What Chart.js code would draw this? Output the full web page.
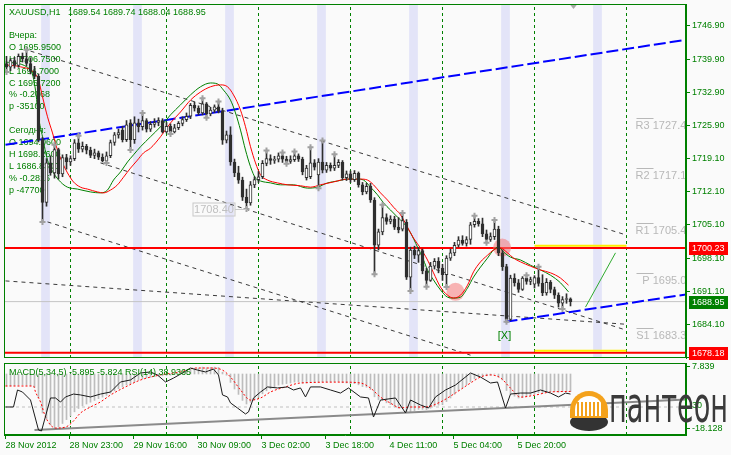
<!DOCTYPE html>
<html>
<head>
<meta charset="utf-8">
<title>XAUUSD H1</title>
<script src="https://cdn.jsdelivr.net/npm/chart.js@4.4.1/dist/chart.umd.min.js"></script>
<style>
  html, body { margin: 0; padding: 0; background: #ffffff; }
  #wrap { position: relative; width: 731px; height: 455px; background: #fafafa; overflow: hidden; }
  #mainChart { position: absolute; left: 0; top: 0; }
  #subChart { position: absolute; left: 0; top: 360px; }
</style>
</head>
<body>
<div id="wrap">
  <canvas id="mainChart" width="731" height="360"></canvas>
  <canvas id="subChart" width="731" height="95"></canvas>
</div>
<script>
const GREEN = "#008000";
const FONT = "Liberation Sans";

// hourly bars, index 0 = first (clipped) bar at the left edge
const candleOpen = [
  1738.5, 1739.0, 1738.2, 1739.6, 1738.6, 1740.5, 1740.0, 1739.0, 1737.4, 1736.3,
  1723.0, 1709.8, 1718.1, 1716.0, 1720.9, 1715.8, 1719.2, 1718.3, 1719.0, 1722.3,
  1721.0, 1721.6, 1720.8, 1719.7, 1720.2, 1719.3, 1718.5, 1719.6, 1722.4, 1724.0,
  1725.0, 1723.0, 1726.5, 1723.0, 1726.5, 1725.7, 1727.0, 1725.2, 1726.2, 1726.6,
  1727.0, 1724.6, 1725.8, 1724.6, 1725.5, 1726.4, 1727.2, 1727.9, 1730.2, 1729.6,
  1728.6, 1730.5, 1728.4, 1729.2, 1729.9, 1729.0, 1722.9, 1724.0, 1718.3, 1716.0,
  1714.5, 1710.9, 1709.7, 1713.5, 1714.6, 1715.2, 1718.0, 1719.0, 1718.6, 1718.9,
  1719.6, 1718.9, 1718.4, 1718.8, 1719.6, 1718.9, 1715.0, 1715.2, 1718.1, 1715.6,
  1718.3, 1716.6, 1717.6, 1717.0, 1717.6, 1718.2, 1715.0, 1715.8, 1714.6, 1715.9,
  1713.5, 1712.0, 1713.2, 1710.3, 1700.8, 1703.6, 1706.6, 1705.8, 1706.3, 1704.6,
  1704.2, 1705.6, 1694.1, 1699.8, 1698.7, 1699.7, 1695.4, 1693.4, 1696.4, 1697.4,
  1696.0, 1694.6, 1698.1, 1699.2, 1700.8, 1701.9, 1701.2, 1702.0, 1705.1, 1705.8,
  1705.3, 1703.2, 1702.0, 1702.6, 1704.2, 1699.2, 1696.3, 1685.2, 1693.9, 1692.9,
  1691.5, 1693.9, 1693.2, 1692.6, 1694.0, 1692.8, 1690.8, 1693.0, 1691.5, 1690.3,
  1688.6, 1689.4, 1689.54
];
const candleHigh = [
  1740.0, 1740.5, 1740.0, 1740.3, 1741.0, 1741.2, 1741.9, 1740.2, 1738.4, 1736.8,
  1723.5, 1719.0, 1719.6, 1721.9, 1721.2, 1719.8, 1719.9, 1719.6, 1723.0, 1723.8,
  1722.5, 1722.0, 1721.4, 1721.0, 1720.6, 1720.0, 1720.4, 1722.9, 1724.5, 1725.2,
  1725.8, 1727.0, 1727.2, 1727.8, 1727.3, 1728.6, 1727.4, 1726.8, 1727.4, 1727.6,
  1727.4, 1726.6, 1726.3, 1726.2, 1726.8, 1727.8, 1728.6, 1730.6, 1730.9, 1730.1,
  1731.7, 1730.8, 1729.8, 1730.3, 1731.0, 1729.6, 1724.8, 1725.7, 1718.9, 1717.4,
  1715.1, 1712.6, 1714.2, 1715.2, 1716.3, 1718.6, 1720.7, 1719.8, 1719.5, 1720.2,
  1720.3, 1719.5, 1719.6, 1720.5, 1720.0, 1719.3, 1717.6, 1721.4, 1718.8, 1719.0,
  1722.8, 1718.2, 1718.1, 1719.9, 1718.8, 1718.6, 1716.4, 1716.4, 1716.5, 1716.2,
  1714.0, 1713.8, 1713.8, 1710.8, 1704.2, 1709.3, 1707.4, 1707.0, 1706.9, 1706.6,
  1707.6, 1706.2, 1700.4, 1700.6, 1700.3, 1700.0, 1696.0, 1697.2, 1698.0, 1698.2,
  1696.8, 1698.6, 1700.0, 1701.4, 1702.6, 1702.8, 1702.6, 1705.6, 1707.0, 1706.4,
  1706.5, 1704.0, 1703.4, 1706.1, 1704.8, 1699.8, 1696.8, 1694.5, 1694.8, 1693.6,
  1694.2, 1694.5, 1694.1, 1694.4, 1696.3, 1694.6, 1693.8, 1693.4, 1692.0, 1690.8,
  1690.0, 1690.6, 1689.74
];
const candleLow = [
  1737.8, 1737.2, 1737.5, 1738.0, 1738.2, 1739.3, 1738.5, 1736.8, 1735.8, 1722.5,
  1705.7, 1709.0, 1715.5, 1714.9, 1714.7, 1715.2, 1716.8, 1717.6, 1718.6, 1720.3,
  1720.4, 1720.0, 1719.2, 1719.0, 1718.8, 1718.3, 1718.1, 1719.2, 1721.8, 1723.3,
  1722.5, 1722.6, 1720.8, 1722.2, 1724.6, 1725.0, 1724.6, 1724.7, 1725.6, 1725.9,
  1724.4, 1724.4, 1724.2, 1724.4, 1725.1, 1725.9, 1726.8, 1727.4, 1729.0, 1728.2,
  1728.2, 1727.6, 1728.0, 1728.7, 1728.6, 1722.0, 1722.3, 1717.6, 1715.2, 1713.8,
  1710.2, 1708.4, 1709.2, 1712.9, 1714.0, 1714.8, 1717.5, 1717.8, 1718.0, 1718.3,
  1718.2, 1717.9, 1718.0, 1718.4, 1718.4, 1715.6, 1714.5, 1714.8, 1716.6, 1712.8,
  1716.0, 1716.1, 1716.4, 1716.5, 1717.1, 1714.5, 1714.4, 1714.0, 1714.2, 1713.0,
  1711.4, 1711.6, 1709.8, 1694.7, 1699.8, 1703.0, 1705.2, 1705.3, 1704.1, 1703.4,
  1703.8, 1693.6, 1691.2, 1698.0, 1697.2, 1694.8, 1692.1, 1693.2, 1695.8, 1695.0,
  1693.4, 1692.0, 1697.6, 1698.6, 1700.4, 1700.8, 1700.6, 1701.0, 1704.6, 1704.8,
  1702.6, 1701.3, 1701.6, 1702.0, 1698.6, 1695.5, 1684.7, 1685.0, 1692.2, 1690.9,
  1691.3, 1692.6, 1692.5, 1691.8, 1692.2, 1690.2, 1690.3, 1690.8, 1689.6, 1687.8,
  1687.4, 1688.6, 1688.04
];
const candleClose = [
  1739.0, 1738.2, 1739.6, 1738.6, 1740.5, 1740.0, 1739.0, 1737.4, 1736.3, 1723.0,
  1709.8, 1718.1, 1716.0, 1720.9, 1715.8, 1719.2, 1718.3, 1719.0, 1722.3, 1721.0,
  1721.6, 1720.8, 1719.7, 1720.2, 1719.3, 1718.5, 1719.6, 1722.4, 1724.0, 1724.5,
  1723.0, 1726.1, 1723.0, 1726.5, 1725.7, 1727.0, 1725.2, 1726.2, 1726.6, 1727.0,
  1724.6, 1725.8, 1724.6, 1725.5, 1726.4, 1727.2, 1727.9, 1730.2, 1729.6, 1728.6,
  1730.5, 1728.4, 1729.2, 1729.9, 1729.0, 1722.9, 1724.0, 1718.3, 1716.0, 1714.5,
  1710.9, 1709.7, 1713.5, 1714.6, 1715.2, 1718.0, 1719.0, 1718.6, 1718.9, 1719.6,
  1718.9, 1718.4, 1718.8, 1719.6, 1718.9, 1716.2, 1717.0, 1718.1, 1717.2, 1718.3,
  1716.6, 1717.6, 1717.0, 1717.6, 1718.2, 1715.0, 1715.8, 1714.6, 1715.9, 1713.5,
  1712.0, 1713.2, 1710.3, 1700.8, 1703.6, 1706.6, 1705.8, 1706.3, 1704.6, 1704.0,
  1706.0, 1694.1, 1699.8, 1698.7, 1699.7, 1695.4, 1693.4, 1696.4, 1697.4, 1696.0,
  1694.6, 1698.1, 1699.2, 1700.8, 1701.9, 1701.2, 1702.0, 1705.1, 1705.8, 1705.3,
  1703.2, 1702.0, 1702.6, 1704.2, 1699.2, 1696.3, 1685.2, 1693.9, 1692.9, 1691.5,
  1693.9, 1693.2, 1693.6, 1694.0, 1692.8, 1690.8, 1693.0, 1691.5, 1690.3, 1688.6,
  1689.4, 1689.5, 1688.95
];

const priceTicks = [1746.9, 1739.9, 1732.9, 1725.9, 1719.1, 1712.1, 1705.1, 1698.1, 1691.1, 1684.1, 1677.3];

// moving averages as [bar, price]
const greenMa = [
  [0.75, 1739.3], [7, 1737.7], [8.25, 1733.4], [9, 1727.8], [10, 1723.6], [11.25, 1718.7],
  [12.75, 1716.0], [14.5, 1714.1], [16.25, 1713.0], [18.75, 1712.6], [22, 1712.0], [24.5, 1711.8],
  [26.25, 1712.4], [27.75, 1714.5], [29.5, 1716.2], [31.25, 1718.3], [32.75, 1719.8], [34.5, 1721.5],
  [37, 1723.6], [39.5, 1725.7], [42, 1728.2], [44.5, 1730.3], [47, 1732.4], [49.5, 1734.1],
  [52, 1734.9], [53.75, 1734.7], [55.25, 1733.4], [57, 1731.3], [58.25, 1728.6], [59.5, 1725.0],
  [60.75, 1720.8], [62, 1717.3], [63.25, 1714.9], [64.5, 1714.3], [67, 1713.9], [69.5, 1713.5],
  [72.75, 1713.5], [76.25, 1712.8], [78.75, 1713.0], [81.25, 1713.9], [83.75, 1714.3], [86.25, 1714.7],
  [88.75, 1714.7], [90.25, 1714.5], [92, 1713.0], [93.75, 1711.4], [95.25, 1709.7], [97, 1708.2],
  [98.75, 1706.7], [100.25, 1705.5], [102, 1703.4], [103.75, 1700.4], [105.25, 1697.7], [106.25, 1695.6],
  [107.75, 1693.5], [109.5, 1691.4], [111.25, 1689.9], [112.75, 1689.7], [114.5, 1689.9], [116.25, 1691.8],
  [117.75, 1694.1], [119.5, 1696.2], [121.25, 1698.1], [122.75, 1699.8], [124, 1700.4], [125.25, 1699.4],
  [127, 1698.3], [129.5, 1697.7], [132, 1696.6], [134.5, 1695.6], [137, 1694.5], [139.5, 1692.9], [141.5, 1691.0]
];
const redMa = [
  [0.75, 1738.7], [4.5, 1738.3], [7.75, 1737.2], [9, 1735.5], [10, 1732.0], [11.25, 1727.8],
  [12.5, 1724.4], [13.75, 1720.8], [15, 1718.1], [16.25, 1716.0], [17.75, 1714.1], [19.5, 1713.0],
  [21.25, 1712.6], [23.75, 1712.0], [25.25, 1711.8], [27, 1712.4], [28.75, 1713.5], [30.25, 1715.1],
  [32, 1717.0], [33.75, 1718.7], [35.25, 1720.2], [37, 1721.2], [39.5, 1723.6], [42, 1726.5],
  [44.5, 1728.8], [47, 1731.3], [49.5, 1733.0], [52, 1734.1], [54.5, 1734.5], [56.25, 1734.1],
  [57.75, 1732.4], [59.5, 1729.2], [60.75, 1725.7], [62, 1721.5], [63.25, 1718.1], [64.5, 1715.6],
  [66.25, 1714.5], [68.75, 1713.9], [71.25, 1713.5], [74.5, 1713.3], [77, 1713.0], [79.5, 1713.5],
  [82.75, 1714.1], [86.25, 1714.7], [89.5, 1714.7], [91.25, 1714.5], [92.75, 1713.5], [94.5, 1711.8],
  [96.25, 1710.3], [97.75, 1708.8], [99.5, 1707.2], [101.25, 1704.6], [102.75, 1702.3], [104.5, 1700.2],
  [106.25, 1697.7], [107.75, 1695.0], [109.5, 1692.0], [111.25, 1690.3], [112.75, 1689.7], [114.5, 1690.3],
  [116.25, 1692.4], [117.75, 1695.2], [119.5, 1697.3], [121.25, 1698.7], [122.75, 1699.8], [124.5, 1700.2],
  [126.25, 1699.2], [127.75, 1698.1], [129.5, 1697.3], [132, 1696.4], [134.5, 1695.6], [137, 1695.0],
  [139.5, 1693.9], [141.5, 1692.4]
];

const fractalUp = [
  [6, 1741.9], [13, 1721.9], [19, 1723.8], [35, 1728.6], [50, 1731.7], [54, 1731.0], [66, 1720.7],
  [70, 1720.3], [73, 1720.5], [77, 1721.4], [80, 1722.8], [83, 1719.9], [95, 1709.3], [100, 1707.6],
  [118, 1707.0], [123, 1706.1], [131, 1694.5], [134, 1696.3]
];
const fractalDown = [
  [1, 1737.2], [10, 1705.7], [26, 1718.1], [32, 1720.8], [42, 1724.2], [51, 1727.6], [61, 1708.4],
  [71, 1717.9], [79, 1712.8], [93, 1694.7], [102, 1691.2], [106, 1692.1], [111, 1692.0], [121, 1701.3],
  [126, 1684.7], [140, 1687.4]
];

const daySeparators = [17, 41, 64, 87, 110, 133, 156];
const sessionBands = [10.75, 33.75, 56.75, 79.75, 102.75, 125.75, 148.75];

const channelUpper = [[7, 1741.6], [155.75, 1703.0]];
const channelMiddle = [[24.5, 1718.1], [155.75, 1683.0]];
const channelLower = [[11.25, 1705.7], [117, 1677.7]];
const channelFlat = [[0.75, 1693.3], [155.75, 1684.2]];
const blueUpper = [[0.75, 1721.9], [171, 1744.0]];
const blueLower = [[125.75, 1684.7], [171.25, 1690.5]];
const greenArrow = [[145.75, 1687.8], [153.25, 1699.2]];
const redCircles = [[113.25, 1691.0], [124.9, 1700.3]];

const redLevels = [1700.23, 1678.18];
const yellowLevels = [1700.7, 1678.6];
const yellowSpan = [133, 156];
const lastPrice = 1688.95;
const shiftMarkerBar = 142.75;

const pivotNames = ["R3", "R2", "R1", "P", "S1"];
const pivotValues = [1727.46, 1717.10, 1705.41, 1695.05, 1683.36];
const fractalLabelBar = 61;
const fractalLabelValue = 1708.40;
const crossMark = { bar: 125.5, value: 1681.7, text: "[X]" };

const tagValues = [1700.23, 1688.95, 1678.18];
const tagColors = ["#ff0000", GREEN, "#ff0000"];

const titleLine = "XAUUSD,H1   1689.54 1689.74 1688.04 1688.95";
const infoLines = [
  "Вчера:", "O 1695.9500", "H 1706.7500", "L 1694.7000", "C 1695.7200", "% -0.2068", "p -35100", "",
  "Сегодня:", "O 1694.0600", "H 1698.2600", "L 1686.8300", "% -0.2816", "p -47700"
];

// indicator window
const macdHist = [
  -4.2, -4.0, -3.9, -3.8, -3.7, -3.6, -3.7, -3.9, -4.5, -8.0,
  -13.0, -15.0, -17.0, -18.1, -17.6, -16.5, -15.2, -14.0, -12.6, -11.5,
  -10.6, -10.0, -9.4, -8.8, -8.2, -7.7, -7.1, -6.4, -5.6, -4.9,
  -4.3, -3.6, -3.2, -2.6, -2.0, -1.6, -1.3, -1.1, -0.9, -0.7,
  -0.6, -0.5, -0.4, -0.2, 0, 0.3, 0.8, 1.5, 1.9, 2.0,
  2.3, 2.1, 2.2, 2.3, 2.2, 0.6, -0.4, -2.8, -5.0, -6.8,
  -8.8, -10.0, -9.4, -8.6, -7.8, -6.6, -5.6, -4.9, -4.3, -3.7,
  -3.4, -3.2, -3.0, -2.7, -2.6, -3.0, -3.0, -2.7, -2.8, -2.7,
  -2.6, -2.6, -2.6, -2.5, -2.5, -2.9, -3.0, -3.2, -3.2, -3.6,
  -4.2, -4.4, -5.2, -7.6, -8.6, -8.8, -9.6, -10.2, -11.0, -11.4,
  -11.4, -12.8, -12.6, -12.2, -11.8, -11.8, -11.9, -11.4, -10.8, -10.4,
  -10.2, -9.2, -8.0, -6.8, -5.6, -4.6, -3.6, -2.6, -1.6, -0.8,
  -0.6, -0.6, -0.4, 0, -1.0, -2.0, -5.5, -6.6, -7.4, -8.0,
  -7.8, -7.4, -7.0, -6.6, -6.2, -6.4, -6.0, -5.9, -5.9, -6.1,
  -5.9, -5.8, -5.9
];
const macdSignal = [
  [0.75, -4.0], [7.75, -4.0], [8.25, -6.0], [9.5, -9.3], [10.75, -14.3], [13.25, -18.0], [15.75, -17.7],
  [17.5, -16.0], [19.5, -13.0], [22, -11.0], [24.5, -9.3], [27, -7.0], [30.75, -4.3], [34.5, -2.0],
  [39.5, -0.3], [44.5, 0.7], [48.25, 2.0], [52, 2.0], [55, 1.3], [57, -1.0], [59.5, -5.3], [62, -8.7],
  [64.5, -8.0], [67, -6.0], [70.75, -4.3], [74.5, -3.0], [84.5, -2.7], [89.5, -3.0], [92, -4.7],
  [94.5, -7.7], [97, -9.7], [99.5, -11.3], [102, -11.0], [105.75, -11.0], [109.5, -9.3], [113.25, -6.3],
  [117, -3.0], [119.5, -1.0], [122, -0.3], [124.5, -1.3], [127, -4.7], [129.5, -7.7], [133.25, -7.0],
  [137, -6.0], [142, -5.8]
];
const rsiLine = [
  [0.75, 30.0], [2.75, 30.0], [3.75, 41.7], [5, 40.3], [7, 34.8], [9, 14.2], [9.75, 13.5], [12, 36.2],
  [13.25, 36.2], [14.5, 33.4], [15.75, 36.9], [17.75, 38.9], [19.5, 38.3], [22, 36.9], [24.5, 38.9],
  [27, 40.3], [29.5, 47.2], [32, 48.6], [34.5, 53.4], [37, 54.1], [38.75, 52.0], [40.75, 47.2],
  [42.75, 49.9], [45, 53.4], [47, 56.8], [48.75, 55.4], [50.75, 54.1], [52.75, 56.1], [54, 52.0],
  [55, 38.3], [56.25, 36.9], [57, 32.8], [58.75, 29.3], [60.75, 25.2], [61.5, 26.6], [62.75, 36.2],
  [64.5, 40.3], [66.25, 43.8], [68.75, 43.1], [71.25, 43.8], [72.75, 41.7], [74.5, 43.1], [75.75, 36.9],
  [77, 43.8], [79.5, 43.8], [82, 41.7], [84.5, 39.6], [86.5, 43.1], [89.5, 36.9], [91.5, 36.2],
  [92.75, 23.1], [94.5, 34.8], [98.25, 36.2], [100.75, 25.9], [102, 34.8], [104.5, 31.4], [106.5, 29.3],
  [108.25, 36.9], [110.75, 41.7], [113.25, 45.1], [117, 53.4], [119.5, 50.6], [122, 46.5], [123.75, 47.2],
  [125.75, 29.3], [127, 38.9], [129.5, 39.6], [132, 39.6], [134.5, 41.7], [137, 39.6], [139, 36.9],
  [140.75, 39.6], [142, 38.9]
];
const rsiTrend = [[8, 14.2], [171, 35.1]];
const rsiLevel = 30;
const subInfo = "MACD(5,34,5) -5.895 -5.824 RSI(14) 38.9365";
const macdTickValues = [2.4, -18.128];
const macdTickLabels = ["7.839", "-18.128"];

const timeTickBars = [0.75, 16.75, 32.75, 48.75, 64.75, 80.75, 96.75, 112.75, 128.75];
const timeLabels = ["28 Nov 2012", "28 Nov 23:00", "29 Nov 16:00", "30 Nov 09:00", "3 Dec 02:00",
  "3 Dec 18:00", "4 Dec 11:00", "5 Dec 04:00", "5 Dec 20:00"];

const X_MIN = 0.375;
const X_MAX = 170.875;
const P_MIN = 1677.1;
const P_MAX = 1751.5;
const M_MIN = -20.33;
const M_MAX = 3.67;
const R_MIN = 10.74;
const R_MAX = 60.26;

Chart.defaults.font.family = FONT;
Chart.defaults.font.size = 9;
Chart.defaults.color = GREEN;

const pts = (pairs) => pairs.map(([x, y]) => ({ x, y }));
const flat = (v, x0, x1) => [{ x: x0, y: v }, { x: x1, y: v }];
const verticalRuns = (xs, lo, hi) => xs.flatMap((x) => [{ x, y: lo }, { x, y: hi }, { x, y: null }]);

function lineSet(data, color, width, dash, order, extra = {}) {
  return Object.assign({
    type: "line", data, borderColor: color, borderWidth: width, borderDash: dash || [],
    pointRadius: 0, fill: false, order
  }, extra);
}

function barSet(data, color, thickness, order, extra = {}) {
  return Object.assign({
    type: "bar", data, backgroundColor: color, barThickness: thickness, maxBarThickness: thickness,
    grouped: false, categoryPercentage: 1, barPercentage: 1, order
  }, extra);
}

// axis boxes keep a fixed size and never pad the plot for their labels
function fixedBox(size, vertical) {
  return (s) => {
    if (vertical) s.width = size; else s.height = size;
    s.paddingTop = 0;
    s.paddingBottom = 0;
    s.paddingLeft = 0;
    s.paddingRight = 0;
  };
}

const bars = candleOpen.map((_, i) => i);
const bodyColors = bars.map((i) => (candleClose[i] >= candleOpen[i] ? "#ffffff" : "#2f2f2f"));

const mainDatasets = [
  barSet(sessionBands.map((x) => ({ x, y: [P_MIN, P_MAX] })), "#e3e4f8", 8, 100),
  lineSet(verticalRuns(daySeparators, P_MIN, P_MAX), GREEN, 1, [3, 3], 90),
  lineSet(flat(lastPrice, X_MIN, X_MAX), "#c4c4c4", 1, null, 85),
  lineSet(pts(channelUpper), "#3a3a3a", 1, [4, 4], 80),
  lineSet(pts(channelMiddle), "#3a3a3a", 1, [4, 4], 80),
  lineSet(pts(channelLower), "#3a3a3a", 1, [4, 4], 80),
  lineSet(pts(channelFlat), "#3a3a3a", 1, [4, 4], 80),
  lineSet(pts(blueUpper), "#0000ff", 2, [12, 4], 75),
  lineSet(pts(blueLower), "#0000ff", 2, [12, 4], 75),
  lineSet(flat(redLevels[0], X_MIN, X_MAX), "#ff0000", 2, null, 70),
  lineSet(flat(redLevels[1], X_MIN, X_MAX), "#ff0000", 2, null, 70),
  lineSet(flat(yellowLevels[0], yellowSpan[0], yellowSpan[1]), "#ffee00", 2, null, 69),
  lineSet(flat(yellowLevels[1], yellowSpan[0], yellowSpan[1]), "#ffee00", 2, null, 69),
  lineSet(pts(redCircles), "rgba(0,0,0,0)", 0, null, 65, {
    showLine: false, pointRadius: 9, pointBackgroundColor: "rgba(246,120,120,0.55)", pointBorderWidth: 0
  }),
  lineSet(pts(greenMa), GREEN, 1, null, 60, { cubicInterpolationMode: "monotone" }),
  lineSet(pts(redMa), "#ff0000", 1, null, 59, { cubicInterpolationMode: "monotone" }),
  barSet(bars.map((i) => ({ x: i, y: [candleLow[i], candleHigh[i]] })), "#2f2f2f", 1, 50),
  barSet(bars.map((i) => ({ x: i, y: [candleOpen[i], candleClose[i]] })), bodyColors, 3, 40, {
    borderColor: "#2f2f2f", borderWidth: 1, borderSkipped: false, minBarLength: 1
  }),
  lineSet(pts(fractalUp), "rgba(0,0,0,0)", 0, null, 30, {
    showLine: false, pointStyle: "cross", pointRadius: 3, pointBorderColor: "#a0a0a0", pointBorderWidth: 2
  }),
  lineSet(pts(fractalDown), "rgba(0,0,0,0)", 0, null, 30, {
    showLine: false, pointStyle: "cross", pointRadius: 3, pointBorderColor: "#a0a0a0", pointBorderWidth: 2
  }),
  lineSet(pts(greenArrow), "#2eaa2e", 1, null, 30)
];

const mainDecor = {
  id: "mainDecor",
  afterDatasetDraw(chart, args) {
    if (args.index !== 0) return;
    const { ctx } = chart;
    ctx.save();
    ctx.fillStyle = GREEN;
    ctx.font = `9px "${FONT}"`;
    ctx.textBaseline = "middle";
    ctx.fillText(titleLine, 9, 13);
    infoLines.forEach((t, i) => ctx.fillText(t, 9, 35.5 + i * 11.9));
    ctx.restore();
  },
  afterDatasetsDraw(chart) {
    const { ctx, chartArea: a, scales } = chart;
    const x = scales.x;
    const y = scales.y;
    ctx.save();
    ctx.beginPath();
    ctx.rect(a.left, a.top, a.right - a.left, a.bottom - a.top);
    ctx.clip();
    // pivot levels
    ctx.font = `11px "${FONT}"`;
    ctx.textBaseline = "top";
    ctx.textAlign = "right";
    pivotValues.forEach((v, i) => {
      const py = Math.round(y.getPixelForValue(v)) + 0.5;
      ctx.strokeStyle = "#b8b8b8";
      ctx.beginPath();
      ctx.moveTo(x.getPixelForValue(158.5), py);
      ctx.lineTo(x.getPixelForValue(162.75), py);
      ctx.stroke();
      ctx.fillStyle = "#b8b8b8";
      ctx.fillText(`${pivotNames[i]} ${v.toFixed(2)}`, x.getPixelForValue(172.5), py + 2);
    });
    // fractal price label
    const fx = x.getPixelForValue(fractalLabelBar);
    const fy = Math.round(y.getPixelForValue(fractalLabelValue)) + 0.5;
    ctx.strokeStyle = "#c8c8c8";
    ctx.strokeRect(fx - 53.5, fy - 6.5, 42, 13);
    ctx.beginPath();
    ctx.moveTo(fx - 11.5, fy);
    ctx.lineTo(fx, fy);
    ctx.stroke();
    ctx.fillStyle = "#c0c0c0";
    ctx.textAlign = "center";
    ctx.textBaseline = "middle";
    ctx.fillText(fractalLabelValue.toFixed(2), fx - 32.5, fy + 0.5);
    // [X] marker
    ctx.fillStyle = GREEN;
    ctx.fillText(crossMark.text, x.getPixelForValue(crossMark.bar), y.getPixelForValue(crossMark.value));
    // chart shift marker
    const sx = x.getPixelForValue(shiftMarkerBar);
    ctx.fillStyle = "#a8a8a8";
    ctx.beginPath();
    ctx.moveTo(sx - 4, a.top);
    ctx.lineTo(sx + 4, a.top);
    ctx.lineTo(sx, a.top + 5);
    ctx.closePath();
    ctx.fill();
    ctx.restore();
  },
  afterDraw(chart) {
    const { ctx, chartArea: a, scales } = chart;
    ctx.save();
    ctx.strokeStyle = GREEN;
    ctx.lineWidth = 1;
    ctx.strokeRect(a.left + 0.5, a.top + 0.5, a.right - a.left - 1, a.bottom - a.top - 1);
    ctx.font = `9px "${FONT}"`;
    ctx.textBaseline = "middle";
    ctx.textAlign = "left";
    tagValues.forEach((v, i) => {
      const py = Math.round(scales.y.getPixelForValue(v));
      ctx.fillStyle = tagColors[i];
      ctx.fillRect(a.right + 3, py - 6, 39, 13);
      ctx.fillStyle = "#ffffff";
      ctx.fillText(v.toFixed(2), a.right + 6, py + 0.5);
    });
    ctx.restore();
  }
};

new Chart(document.getElementById("mainChart"), {
  type: "bar",
  data: { datasets: mainDatasets },
  options: {
    responsive: false,
    animation: false,
    events: [],
    layout: { autoPadding: false, padding: { left: 4, top: 4, right: 0, bottom: 2 } },
    plugins: { legend: { display: false }, tooltip: { enabled: false } },
    scales: {
      x: { type: "linear", min: X_MIN, max: X_MAX, offset: false, display: false },
      y: {
        position: "right", min: P_MIN, max: P_MAX,
        afterBuildTicks: (s) => { s.ticks = priceTicks.map((v) => ({ value: v })); },
        afterFit: fixedBox(45, true),
        ticks: { color: GREEN, padding: 2, autoSkip: false, callback: (v) => Number(v).toFixed(2) },
        grid: { drawOnChartArea: false, drawTicks: true, tickLength: 4, color: GREEN },
        border: { color: GREEN }
      }
    }
  },
  plugins: [mainDecor]
});

const subDatasets = [
  lineSet(verticalRuns(daySeparators, M_MIN, M_MAX), GREEN, 1, [3, 3], 90, { yAxisID: "yM" }),
  barSet(bars.map((i) => ({ x: i, y: macdHist[i] })), "#bdbdbd", 1, 80, { yAxisID: "yM" }),
  lineSet(flat(rsiLevel, X_MIN, X_MAX), "#c0c0c0", 1, [3, 3], 70, { yAxisID: "yR" }),
  lineSet(pts(rsiTrend), "#8a8a8a", 2, null, 65, { yAxisID: "yR" }),
  lineSet(pts(macdSignal), "#ff0000", 1, [2, 2], 60, { yAxisID: "yM", cubicInterpolationMode: "monotone" }),
  lineSet(pts(rsiLine), "#1a1a1a", 1, null, 50, { yAxisID: "yR" })
];

function drawLogo(ctx) {
  ctx.save();
  // emblem
  ctx.fillStyle = "#333333";
  ctx.beginPath();
  ctx.ellipse(589, 62, 19, 9, 0, 0, Math.PI * 2);
  ctx.fill();
  ctx.fillStyle = "#f4a21c";
  ctx.beginPath();
  ctx.arc(589, 50, 19, Math.PI, Math.PI * 2);
  ctx.lineTo(608, 58);
  ctx.lineTo(570, 58);
  ctx.closePath();
  ctx.fill();
  ctx.fillStyle = "#ffffff";
  ctx.beginPath();
  ctx.arc(589, 50, 14, Math.PI, Math.PI * 2);
  ctx.lineTo(603, 56);
  ctx.lineTo(575, 56);
  ctx.closePath();
  ctx.fill();
  ctx.fillStyle = "#f4a21c";
  for (let cx = 577; cx <= 601; cx += 4) ctx.fillRect(cx, 42, 2, 14);
  // lettering
  ctx.fillStyle = "#3a3a3a";
  ctx.font = `50px "DejaVu Sans"`;
  ctx.textBaseline = "alphabetic";
  ctx.fillText("пантеон", 609, 62, 119);
  ctx.restore();
}

const subDecor = {
  id: "subDecor",
  afterDraw(chart) {
    const { ctx, chartArea: a, scales } = chart;
    ctx.save();
    ctx.strokeStyle = GREEN;
    ctx.lineWidth = 1;
    ctx.strokeRect(a.left + 0.5, a.top + 0.5, a.right - a.left - 1, a.bottom - a.top - 1);
    ctx.fillStyle = GREEN;
    ctx.font = `9px "${FONT}"`;
    ctx.textBaseline = "middle";
    ctx.fillText(subInfo, 9, 13);
    const ry = Math.round(scales.yR.getPixelForValue(rsiLevel)) + 0.5;
    ctx.beginPath();
    ctx.moveTo(a.right, ry);
    ctx.lineTo(a.right + 4, ry);
    ctx.stroke();
    ctx.fillText(String(rsiLevel), a.right + 6, ry - 2);
    drawLogo(ctx);
    ctx.restore();
  }
};

new Chart(document.getElementById("subChart"), {
  type: "bar",
  data: { datasets: subDatasets },
  options: {
    responsive: false,
    animation: false,
    events: [],
    layout: { autoPadding: false, padding: { left: 4, top: 3, right: 0, bottom: 0 } },
    plugins: { legend: { display: false }, tooltip: { enabled: false } },
    scales: {
      x: {
        type: "linear", min: X_MIN, max: X_MAX, offset: false,
        afterBuildTicks: (s) => { s.ticks = timeTickBars.map((v) => ({ value: v })); },
        afterFit: fixedBox(20, false),
        ticks: {
          color: GREEN, autoSkip: false, maxRotation: 0, align: "start", padding: 1,
          callback: (v, i) => timeLabels[i]
        },
        grid: { drawOnChartArea: false, drawTicks: true, tickLength: 4, color: GREEN, offset: false },
        border: { color: GREEN }
      },
      yM: {
        position: "right", min: M_MIN, max: M_MAX,
        afterBuildTicks: (s) => { s.ticks = macdTickValues.map((v) => ({ value: v })); },
        afterFit: fixedBox(45, true),
        ticks: { color: GREEN, padding: 2, autoSkip: false, callback: (v, i) => macdTickLabels[i] },
        grid: { drawOnChartArea: false, drawTicks: true, tickLength: 4, color: GREEN },
        border: { color: GREEN }
      },
      yR: { display: false, min: R_MIN, max: R_MAX }
    }
  },
  plugins: [subDecor]
});
</script>
</body>
</html>
